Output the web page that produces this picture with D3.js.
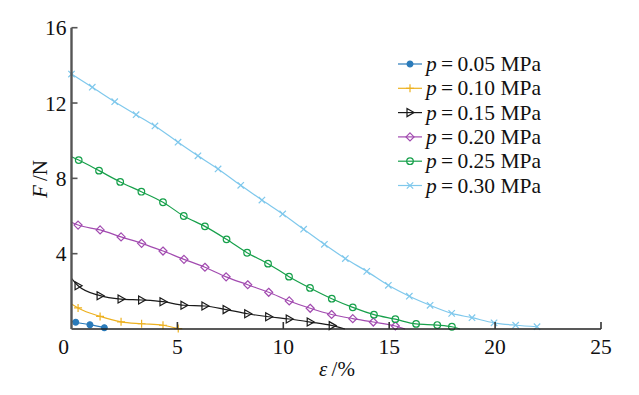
<!DOCTYPE html>
<html>
<head>
<meta charset="utf-8">
<script src="https://d3js.org/d3.v7.min.js"></script>
<style>
  body { margin: 0; background: #fff; }
  text { font-family: "Liberation Serif", "DejaVu Serif", serif; fill: #111; }
</style>
</head>
<body>
<script>
// series labels and colours
const pressures = ["0.05", "0.10", "0.15", "0.20", "0.25", "0.30"];
const colors = ["#2b7bba", "#edb120", "#1a1a1a", "#a24bb0", "#17a04b", "#7fc8ec"];
const shapes = ["dot", "plus", "tri", "diamond", "circle", "x"];

// marker points (strain %, force N)
const eps005 = [0.20, 0.87, 1.55];
const f005   = [0.36, 0.23, 0.07];
const eps010 = [0.31, 1.35, 2.34, 3.31, 4.32, 5.04];
const f010   = [1.12, 0.67, 0.38, 0.28, 0.20, 0.02];
const eps015 = [0.31, 1.35, 2.34, 3.31, 4.32, 5.31, 6.30, 7.30, 8.32, 9.31, 10.28, 11.27, 12.31];
const f015   = [2.30, 1.77, 1.59, 1.54, 1.45, 1.26, 1.22, 1.03, 0.81, 0.65, 0.53, 0.37, 0.18];
const eps020 = [0.31, 1.35, 2.34, 3.31, 4.32, 5.31, 6.30, 7.30, 8.32, 9.31, 10.28, 11.27, 12.28, 13.28, 14.25, 15.29];
const f020   = [5.52, 5.26, 4.89, 4.55, 4.14, 3.70, 3.28, 2.77, 2.35, 1.95, 1.49, 1.10, 0.77, 0.55, 0.37, 0.16];
const eps025 = [0.34, 1.30, 2.30, 3.30, 4.32, 5.30, 6.30, 7.32, 8.29, 9.28, 10.27, 11.26, 12.29, 13.28, 14.28, 15.29, 16.27, 17.27, 17.96];
const f025   = [8.97, 8.41, 7.81, 7.29, 6.73, 6.00, 5.45, 4.76, 4.05, 3.47, 2.78, 2.18, 1.61, 1.15, 0.76, 0.52, 0.27, 0.21, 0.12];
const eps030 = [0, 0.98, 2.04, 3.05, 3.94, 5.03, 5.97, 6.92, 7.99, 8.99, 9.97, 10.96, 11.94, 12.93, 13.94, 14.96, 15.95, 16.93, 17.95, 18.91, 19.95, 20.97, 21.98];
const f030   = [13.54, 12.84, 12.07, 11.38, 10.78, 9.92, 9.20, 8.50, 7.63, 6.85, 6.11, 5.30, 4.50, 3.74, 3.06, 2.32, 1.74, 1.26, 0.83, 0.60, 0.33, 0.20, 0.12];

// where each curve meets the F axis (no marker) and where it runs out on the ε axis
const startF = [0.42, 1.33, 2.69, 5.67, 9.15, null];
const endEps = [null, null, 12.91, 15.75, 18.34, null];

const epsAll = [eps005, eps010, eps015, eps020, eps025, eps030];
const fAll = [f005, f010, f015, f020, f025, f030];

const xTicks = [0, 5, 10, 15, 20, 25];
const yTicks = [4, 8, 12, 16];

const width = 639, height = 395;

const svg = d3.select("body").append("svg")
    .attr("width", width)
    .attr("height", height);

const x = d3.scaleLinear().domain([0, 25]).range([71.5, 601]);
const y = d3.scaleLinear().domain([0, 16]).range([329, 27.7]);

function markerPath(shape) {
    if (shape === "dot" || shape === "circle") {
        const r = shape === "dot" ? 2.9 : 3.3;
        return `M${r},0A${r},${r} 0 1,1 ${-r},0A${r},${r} 0 1,1 ${r},0Z`;
    }
    if (shape === "plus") return `M-4,0H4M0,-4V4`;
    if (shape === "x") return `M-3.2,-3.2L3.2,3.2M-3.2,3.2L3.2,-3.2`;
    if (shape === "tri") return `M-3,-4L4,0L-3,4Z`;
    if (shape === "diamond") return `M0,-4L4,0L0,4L-4,0Z`;
}

const line = d3.line()
    .x(d => x(d[0]))
    .y(d => y(d[1]))
    .curve(d3.curveMonotoneX);

const plot = svg.append("g");

epsAll.forEach((eps, i) => {
    let pts = eps.map((e, j) => [e, fAll[i][j]]);
    let curve = pts.slice();
    if (startF[i] !== null) curve.unshift([0, startF[i]]);
    if (endEps[i] !== null) curve.push([endEps[i], 0]);

    plot.append("path")
        .attr("d", line(curve))
        .attr("fill", "none")
        .attr("stroke", colors[i])
        .attr("stroke-width", 1.2);

    plot.selectAll(null)
        .data(pts)
        .enter()
        .append("path")
            .attr("transform", d => `translate(${x(d[0])},${y(d[1])})`)
            .attr("d", markerPath(shapes[i]))
            .attr("fill", shapes[i] === "dot" ? colors[i] : "none")
            .attr("stroke", colors[i])
            .attr("stroke-width", 1.2);
});

// x axis, ticks pointing up
const xAxis = svg.append("g").attr("transform", `translate(0,${y(0)})`);
xAxis.append("line")
    .attr("x1", x(0)).attr("x2", x(25))
    .attr("stroke", "#222").attr("stroke-width", 1.6);
xAxis.selectAll(".tk")
    .data(xTicks.filter(d => d > 0))
    .enter().append("line")
        .attr("x1", d => x(d)).attr("x2", d => x(d))
        .attr("y1", 0).attr("y2", -7)
        .attr("stroke", "#333").attr("stroke-width", 1.6);
xAxis.selectAll(".lb")
    .data(xTicks)
    .enter().append("text")
        .attr("x", d => d === 0 ? x(d) - 8 : x(d))
        .attr("y", 25)
        .attr("text-anchor", "middle")
        .attr("font-size", 21.5)
        .text(d => d);

// y axis, ticks pointing right
const yAxis = svg.append("g").attr("transform", `translate(${x(0)},0)`);
yAxis.append("line")
    .attr("y1", y(0)).attr("y2", y(16))
    .attr("stroke", "#555").attr("stroke-width", 2.4);
yAxis.selectAll(".tk")
    .data(yTicks)
    .enter().append("line")
        .attr("x1", 0).attr("x2", 6)
        .attr("y1", d => y(d)).attr("y2", d => y(d))
        .attr("stroke", "#555").attr("stroke-width", 1.6);
yAxis.selectAll(".lb")
    .data(yTicks)
    .enter().append("text")
        .attr("x", -5)
        .attr("y", d => y(d) + 7.5)
        .attr("text-anchor", "end")
        .attr("font-size", 21.5)
        .text(d => d);

// axis titles
const xt = svg.append("text")
    .attr("x", 337).attr("y", 376)
    .attr("text-anchor", "middle")
    .attr("font-size", 21);
xt.append("tspan").attr("font-style", "italic").text("ε");
xt.append("tspan").text("\u2009/%");

const yt = svg.append("text")
    .attr("transform", "translate(47,179) rotate(-90)")
    .attr("text-anchor", "middle")
    .attr("font-size", 21);
yt.append("tspan").attr("font-style", "italic").text("F");
yt.append("tspan").text("\u2009/N");

// legend
const legend = svg.append("g");
pressures.forEach((p, i) => {
    const ly = 64 + i * 24.3;
    legend.append("line")
        .attr("x1", 398).attr("x2", 422)
        .attr("y1", ly).attr("y2", ly)
        .attr("stroke", colors[i]).attr("stroke-width", 1.2);
    legend.append("path")
        .attr("transform", `translate(410,${ly})`)
        .attr("d", markerPath(shapes[i]))
        .attr("fill", shapes[i] === "dot" ? colors[i] : "none")
        .attr("stroke", colors[i])
        .attr("stroke-width", 1.2);
    const t = legend.append("text")
        .attr("x", 426).attr("y", ly + 7)
        .attr("font-size", 21.5);
    t.append("tspan").attr("font-style", "italic").text("p");
    t.append("tspan").text("\u2009=\u2009" + p + " MPa");
});
</script>
</body>
</html>
